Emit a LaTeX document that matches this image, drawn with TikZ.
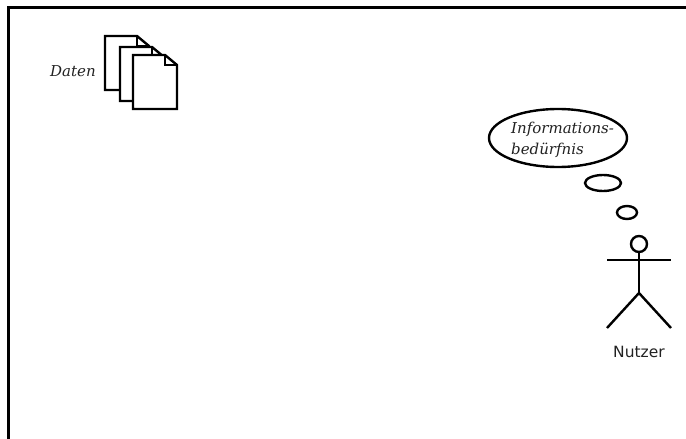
\documentclass[tikz,border=0pt]{standalone}
\usepackage{fontspec}
\setmainfont{DejaVu Serif}
\setsansfont{DejaVu Sans}
\usetikzlibrary{shapes.geometric}
\definecolor{inkline}{HTML}{000000}
\definecolor{inktext}{HTML}{222222}
\tikzset{
  strich/.style={draw=inkline, line width=2.4pt},
  wolke/.style={ellipse, strich, inner sep=0pt},
  kursiv/.style={text=inktext, inner sep=0pt, font=\fontsize{15}{18}\selectfont\itshape},
}
\begin{document}
\begin{tikzpicture}[x=1pt, y=-1pt]
  \useasboundingbox (0,0) rectangle (686,439);
  % Rahmen, rechts und unten offen
  \draw[strich, line width=3pt] (8.5,439) -- (8.5,7) -- (686,7);
  % Dokumente
  \foreach \px/\py in {105/36, 120/47, 133/55}{%
    \draw[strich, fill=white, line join=miter]
      (\px,\py) -- (\px+32,\py) -- (\px+44,\py+10) -- (\px+44,\py+54)
      -- (\px,\py+54) -- cycle;
    \draw[strich] (\px+32,\py) -- (\px+32,\py+10) -- (\px+44,\py+10);}
  \node[kursiv, anchor=west] (daten) at (50,71) {Daten};
  % Gedankenblase
  \node[wolke, minimum width=138pt, minimum height=58pt] (blase) at (558,138) {};
  \node[kursiv, anchor=west] (info) at (511,129) {Informations-};
  \node[kursiv, anchor=west] (beduerfnis) at (511,150) {bedürfnis};
  \node[wolke, minimum width=36pt, minimum height=16pt] (blase2) at (603,183) {};
  \node[wolke, minimum width=20pt, minimum height=13pt] (blase3) at (627,212.5) {};
  % Nutzer
  \node[circle, strich, inner sep=0pt, minimum size=16pt] (kopf) at (639,244) {};
  \coordinate (hals) at (639,260);
  \coordinate (armL) at (607,260);
  \coordinate (armR) at (671,260);
  \coordinate (huefte) at (639,293);
  \coordinate (fussL) at (607,328);
  \coordinate (fussR) at (671,328);
  \draw[strich] (kopf.south) -- (huefte);
  \draw[strich] (armL) -- (armR);
  \draw[strich] (fussL) -- (huefte) -- (fussR);
  \node[inner sep=0pt, text=inktext, font=\sffamily\fontsize{15.5}{18}\selectfont] (nutzer) at (639,352) {Nutzer};
\end{tikzpicture}
\end{document}
